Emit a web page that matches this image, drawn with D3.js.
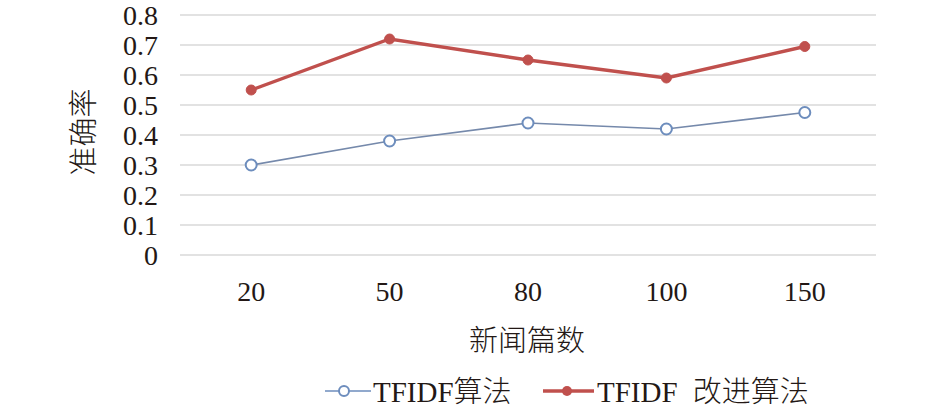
<!DOCTYPE html>
<html>
<head>
<meta charset="utf-8">
<script src="https://cdn.jsdelivr.net/npm/d3@7"></script>
<style>
  html, body { margin: 0; padding: 0; background: #fff; }
  text { font-family: "Liberation Serif", "Noto Sans CJK SC", serif; fill: #231815; }
  .cjk { font-family: "Noto Sans CJK SC", sans-serif; font-weight: 300; }
</style>
</head>
<body>
<svg id="chart" width="945" height="410"></svg>
<script>
const categories = ["20", "50", "80", "100", "150"];
const seriesNames = ["TFIDF算法", "TFIDF 改进算法"];
const tfidf = [0.30, 0.38, 0.44, 0.42, 0.475];
const improved = [0.55, 0.72, 0.65, 0.59, 0.695];
const yTicks = [0, 0.1, 0.2, 0.3, 0.4, 0.5, 0.6, 0.7, 0.8];
const xTitle = "新闻篇数";
const yTitle = "准确率";

const svg = d3.select("#chart");
const x = d3.scaleBand().domain(categories).range([182, 874]);
const y = d3.scaleLinear().domain([0, 0.8]).range([255, 15]);

// gridlines
svg.append("g").selectAll("line").data(yTicks).join("line")
  .attr("x1", 180).attr("x2", 876)
  .attr("y1", d => y(d)).attr("y2", d => y(d))
  .attr("stroke", "#d9d9d9").attr("stroke-width", 1.6);

// y axis labels
const yAxis = d3.axisLeft(y).tickValues(yTicks).tickSize(0).tickPadding(0)
  .tickFormat(d => d === 0 ? "0" : d3.format(".1f")(d));
const gy = svg.append("g").attr("transform", "translate(158,0)").call(yAxis);
gy.select(".domain").remove();
gy.selectAll("text").attr("font-size", 28).attr("font-family", "Liberation Serif").attr("fill", "#231815").attr("dy", "0.34em");

// x axis labels
const xAxis = d3.axisBottom(x).tickSize(0).tickPadding(0);
const gx = svg.append("g").attr("transform", "translate(0,281)").call(xAxis);
gx.select(".domain").remove();
gx.selectAll("text").attr("font-size", 28).attr("font-family", "Liberation Serif").attr("fill", "#231815").attr("dy", "0.71em");

// titles
svg.append("text").attr("class", "cjk").attr("x", 527).attr("y", 351).attr("text-anchor", "middle")
  .attr("font-size", 29).text(xTitle);
svg.append("text").attr("class", "cjk").attr("transform", "translate(94,132) rotate(-90)").attr("text-anchor", "middle")
  .attr("font-size", 29).text(yTitle);

const cx = d => x(d) + x.bandwidth() / 2;
const line = d3.line().x((d, i) => cx(categories[i])).y(d => y(d));

const blue = "#6d8dbd", red = "#c0504d";

svg.append("path").datum(tfidf).attr("d", line)
  .attr("fill", "none").attr("stroke", "#7589ab").attr("stroke-width", 1.7);
svg.append("g").selectAll("circle").data(tfidf).join("circle")
  .attr("cx", (d, i) => cx(categories[i])).attr("cy", d => y(d)).attr("r", 5.5)
  .attr("fill", "#fff").attr("stroke", blue).attr("stroke-width", 2);

svg.append("path").datum(improved).attr("d", line)
  .attr("fill", "none").attr("stroke", red).attr("stroke-width", 3.4);
svg.append("g").selectAll("circle").data(improved).join("circle")
  .attr("cx", (d, i) => cx(categories[i])).attr("cy", d => y(d)).attr("r", 5)
  .attr("fill", red).attr("stroke", red).attr("stroke-width", 1);

// legend: split latin / CJK parts into tspans
function legendText(sel, str) {
  const parts = str.match(/[\u4e00-\u9fff]+|[^\u4e00-\u9fff]+/g);
  parts.forEach(p => {
    const t = sel.append("tspan").text(p);
    if (/[\u4e00-\u9fff]/.test(p)) t.attr("class", "cjk");
  });
}
const lg = svg.append("g");
lg.append("line").attr("x1", 325).attr("x2", 371).attr("y1", 391).attr("y2", 391)
  .attr("stroke", blue).attr("stroke-width", 1.7);
lg.append("circle").attr("cx", 344).attr("cy", 391).attr("r", 5)
  .attr("fill", "#fff").attr("stroke", blue).attr("stroke-width", 2);
legendText(lg.append("text").attr("x", 373).attr("y", 402).attr("font-size", 29), seriesNames[0]);

lg.append("line").attr("x1", 543).attr("x2", 594).attr("y1", 391).attr("y2", 391)
  .attr("stroke", red).attr("stroke-width", 3.4);
lg.append("circle").attr("cx", 567).attr("cy", 391).attr("r", 5)
  .attr("fill", red);
legendText(lg.append("text").attr("x", 597).attr("y", 402).attr("font-size", 29)
  .attr("word-spacing", 8), seriesNames[1]);
</script>
</body>
</html>
